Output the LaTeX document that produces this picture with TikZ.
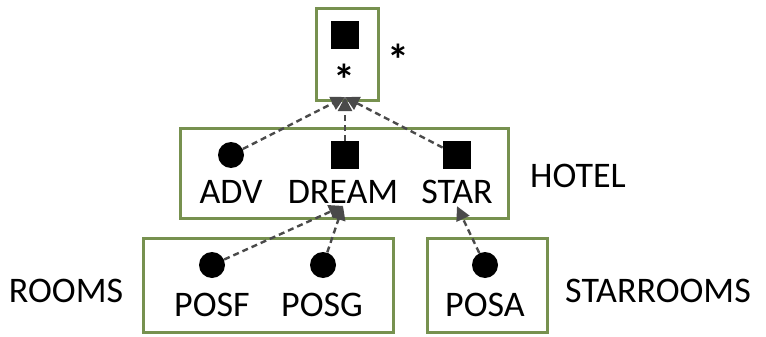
\documentclass[tikz,border=0pt]{standalone}
\usepackage{fontspec}
\setmainfont{Carlito}
\usetikzlibrary{arrows.meta,positioning}
\definecolor{boxgreen}{HTML}{77914F}
\definecolor{arrgray}{HTML}{4A4A4A}
\tikzset{
  grp/.style={draw=boxgreen, line width=1.5pt, rectangle, inner sep=0pt},
  dot/.style={circle, fill=black, inner sep=0pt, minimum size=13pt},
  sq/.style={rectangle, fill=black, inner sep=0pt, minimum size=14pt},
  lbl/.style={font=\fontsize{18}{21}\selectfont, inner sep=1pt},
  mult/.style={font=\fontsize{22}{24}\selectfont\bfseries, inner sep=0pt},
  dep/.style={arrgray, line width=1.2pt, dash pattern=on 3pt off 2pt, -{Triangle[length=7pt,width=7pt]}}
}
\begin{document}
\begin{tikzpicture}[x=0.5pt,y=-0.5pt]
    \useasboundingbox (0,0) rectangle (766,337);
    % Boxes
    \node[grp, minimum width=31pt, minimum height=46pt] (topbox) at (347,54) {};
    \node[grp, minimum width=164pt, minimum height=45pt] (hotelbox) at (344,173) {};
    \node[grp, minimum width=125pt, minimum height=47pt] (roomsbox) at (268,285) {};
    \node[grp, minimum width=60pt, minimum height=47pt] (starbox) at (487,285) {};

    % Top
    \node[sq] (root) at (345,35) {};
    \node[mult] (rootl) at (344,80) {*};
    \node[mult] (rootstar) at (398,60) {*};
    \coordinate (rootin) at (345,97);

    % Hotel
    \node[dot] (adv) at (231,155) {};
    \node[sq] (dream) at (345,155) {};
    \node[sq] (star) at (457,155) {};
    \node[lbl] (advl) at (231,192) {ADV};
    \node[lbl] (dreaml) at (343,192) {DREAM};
    \node[lbl] (starl) at (457,192) {STAR};
    \node[lbl] (hotell) at (578,176) {HOTEL};

    % Rooms
    \node[dot] (posf) at (212,265) {};
    \node[dot] (posg) at (323,265) {};
    \node[dot] (posa) at (485,265) {};
    \node[lbl] (posfl) at (212,305) {POSF};
    \node[lbl] (posgl) at (322,305) {POSG};
    \node[lbl] (posal) at (485,305) {POSA};
    \node[lbl] (roomsl) at (66,291) {ROOMS};
    \node[lbl] (starroomsl) at (658,291) {STARROOMS};

    % Dependencies
    \draw[dep] (adv) -- (rootin);
    \draw[dep] (dream) -- (rootin);
    \draw[dep] (star) -- (rootin);
    \draw[dep] (posf) -- (dreaml.south);
    \draw[dep] (posg) -- (dreaml.south);
    \draw[dep] (posa) -- (starl.south);
\end{tikzpicture}
\end{document}
